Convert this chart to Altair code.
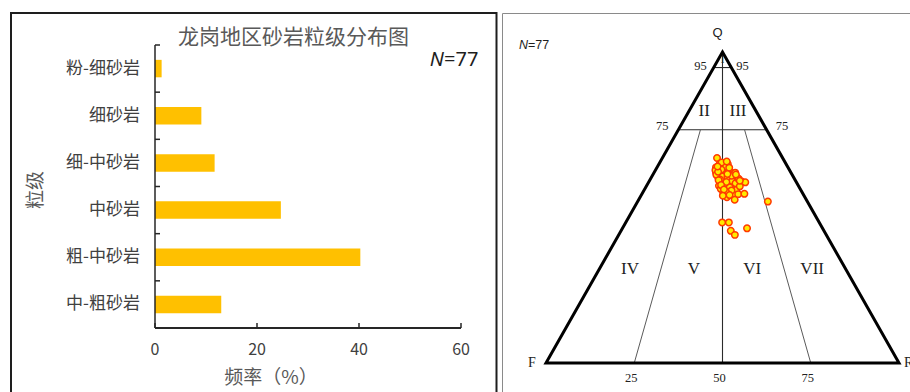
import altair as alt
import pandas as pd

# ---------------- grain-size frequency (left panel) ----------------
grain_classes = ["粉-细砂岩", "细砂岩", "细-中砂岩", "中砂岩", "粗-中砂岩", "中-粗砂岩"]
frequency_pct = [1.30, 9.09, 11.69, 24.68, 40.26, 12.99]
freq_ticks = [0, 20, 40, 60]

# ---------------- QFR composition of the 77 samples (right panel, %) ----------------
Q = [65.9, 64.0, 62.9, 62.5, 63.8, 64.0, 62.5, 61.3, 60.8, 61.4,
     61.6, 60.5, 59.7, 58.4, 58.1, 59.5, 59.3, 58.9, 58.6, 57.3,
     57.9, 57.3, 56.3, 56.0, 55.7, 54.7, 54.1, 54.3, 54.4, 52.5,
     54.7, 53.3, 56.8, 51.9, 45.2, 45.2, 42.5, 41.2, 43.3, 63.5,
     62.0, 61.0, 60.0, 59.8, 58.0, 57.5, 58.5, 60.5, 61.8, 63.0,
     64.5, 62.8, 60.2, 59.0, 57.0, 56.5, 55.5, 56.0, 57.8, 59.5,
     61.2, 58.8, 62.2, 60.8, 58.2, 55.0, 54.0, 56.8, 59.2, 61.5,
     63.2, 64.8, 57.2, 55.8, 53.8, 58.6, 60.6]
R = [15.5, 17.2, 16.7, 18.3, 18.8, 19.5, 20.0, 17.5, 18.9, 19.8,
     21.3, 22.8, 24.1, 26.2, 27.4, 19.1, 20.6, 22.3, 24.0, 25.8,
     21.8, 23.4, 22.8, 24.4, 26.1, 24.3, 26.0, 27.3, 29.0, 27.2,
     22.9, 24.6, 21.2, 36.9, 27.3, 29.2, 31.1, 32.9, 35.3, 17.8,
     17.0, 19.5, 20.0, 21.5, 21.0, 22.5, 23.5, 18.0, 20.5, 19.0,
     17.5, 20.5, 22.5, 19.8, 20.5, 23.8, 24.8, 21.5, 24.8, 24.5,
     23.0, 19.5, 18.6, 21.0, 22.0, 23.5, 25.0, 26.5, 25.0, 18.0,
     17.0, 18.8, 21.0, 22.5, 23.2, 25.6, 23.5]
F = [18.6, 18.8, 20.4, 19.2, 17.4, 16.5, 17.5, 21.2, 20.3, 18.8,
     17.1, 16.7, 16.2, 15.4, 14.5, 21.4, 20.1, 18.8, 17.4, 16.9,
     20.3, 19.3, 20.9, 19.6, 18.2, 21.0, 19.9, 18.4, 16.6, 20.3,
     22.4, 22.1, 22.0, 11.2, 27.5, 25.6, 26.4, 25.9, 21.4, 18.7,
     21.0, 19.5, 20.0, 18.7, 21.0, 20.0, 18.0, 21.5, 17.7, 18.0,
     18.0, 16.7, 17.3, 21.2, 22.5, 19.7, 19.7, 22.5, 17.4, 16.0,
     15.8, 21.7, 19.2, 18.2, 19.8, 21.5, 21.0, 16.7, 15.8, 20.5,
     19.8, 16.4, 21.8, 21.7, 23.0, 15.8, 15.9]

# classification field labels (Q, R at the label anchor)
field_names = ["II", "III", "IV", "V", "VI", "VII"]
field_q = [81.0, 81.0, 30.2, 30.2, 30.2, 30.2]
field_r = [4.3, 13.9, 8.7, 26.8, 43.3, 60.3]

CJK = "Noto Sans CJK SC"
SERIF = "Liberation Serif"
SANS = "Liberation Sans"
TXT = "#404040"
TTL = "#595959"
AX = "#262626"


def tern(q, r):
    """Ternary (Q top, F left, R right) -> plane coordinates in % units."""
    return r + q / 2.0, q


# ====================== left panel: bar chart ======================
bar_df = pd.DataFrame({"cls": grain_classes, "freq": frequency_pct})
xtick_df = pd.DataFrame({"freq": freq_ticks, "lab": [str(v) for v in freq_ticks]})
xaxis_df = pd.DataFrame({"freq": [freq_ticks[0]], "freq2": [freq_ticks[-1]]})

bx_scale = alt.Scale(domain=[0, 60], range=[155, 461], nice=False)
by_scale = alt.Scale(domain=grain_classes, range=[45, 328],
                     paddingInner=0.63, paddingOuter=0.315)
band_step = (328 - 45) / len(grain_classes)


def BX():
    return alt.X("freq:Q", scale=bx_scale, axis=None)


def BY():
    return alt.Y("cls:N", sort=grain_classes, scale=by_scale, axis=None)


bars = alt.Chart(bar_df).mark_bar(color="#FFC000").encode(x=BX(), y=BY())

# value axis: baseline, inward ticks and labels
x_line = alt.Chart(xaxis_df).mark_rule(color=AX, strokeWidth=2).encode(
    x=BX(), x2="freq2:Q", y=alt.value(328))
x_ticks = alt.Chart(xtick_df).mark_rule(color=AX, strokeWidth=1.5).encode(
    x=BX(), y=alt.value(323), y2=alt.value(328))
x_labels = alt.Chart(xtick_df).mark_text(
    font=CJK, fontSize=16, color=TXT, baseline="middle", align="center"
).encode(x=BX(), y=alt.value(350), text="lab:N")

# category axis: line, inward ticks at the class boundaries and labels
y_line = alt.Chart(xaxis_df).mark_rule(color=AX, strokeWidth=1.5).encode(
    x=BX(), y=alt.value(45), y2=alt.value(328))
y_ticks = alt.Chart(bar_df).mark_rule(
    color=AX, strokeWidth=1.5, yOffset=-band_step / 2
).encode(y=BY(), x=alt.value(155), x2=alt.value(160))
y_labels = alt.Chart(bar_df).mark_text(
    font=CJK, fontSize=17, color=TXT, baseline="middle", align="right"
).encode(y=BY(), x=alt.value(140), text="cls:N")

bar_panel = alt.layer(bars, x_line, x_ticks, x_labels, y_line, y_ticks,
                      y_labels)

# ====================== right panel: QFR ternary ======================
tx_scale = alt.Scale(domain=[0, 100], range=[546, 899], nice=False, zero=False)
ty_scale = alt.Scale(domain=[0, 100], range=[363, 52], nice=False, zero=False)


def txy(df):
    x, y = tern(df["q"], df["r"])
    return df.assign(x=x, y=y)


def X():
    return alt.X("x:Q", scale=tx_scale, axis=None)


def Y():
    return alt.Y("y:Q", scale=ty_scale, axis=None)


# outer triangle F -> R -> Q -> F -> R (last leg closes the corner joins)
outline = txy(pd.DataFrame({"q": [0, 0, 100, 0, 0], "r": [0, 100, 0, 0, 100],
                            "o": [0, 1, 2, 3, 4]}))
triangle = alt.Chart(outline).mark_line(
    color="black", strokeWidth=3, strokeJoin="miter"
).encode(x=X(), y=Y(), order="o:Q")

# field boundaries: Q = 95, Q = 75, the F:R = 1:1 axis and the 3:1 / 1:3 lines
seg = pd.DataFrame({
    "q": [95, 75, 100, 75, 75], "r": [0, 0, 0, 6.25, 18.75],
    "q2": [95, 75, 0, 0, 0], "r2": [5, 25, 50, 25, 75],
    "kind": ["main", "main", "main", "ratio", "ratio"],
})
seg["x"], seg["y"] = tern(seg["q"], seg["r"])
seg["x2"], seg["y2"] = tern(seg["q2"], seg["r2"])
main_lines = alt.Chart(seg[seg.kind == "main"]).mark_rule(
    color="#2b2b2b", strokeWidth=1.1
).encode(x=X(), y=Y(), x2="x2:Q", y2="y2:Q")
ratio_lines = alt.Chart(seg[seg.kind == "ratio"]).mark_rule(
    color="#5a5a5a", strokeWidth=1
).encode(x=X(), y=Y(), x2="x2:Q", y2="y2:Q")

samples = txy(pd.DataFrame({"q": Q, "f": F, "r": R}))
points = alt.Chart(samples).mark_circle(
    size=42, color="#FFEA00", opacity=1, stroke="#FF3A00", strokeWidth=1.5
).encode(x=X(), y=Y())


def tlabel(df, font, size, **kw):
    return alt.Chart(txy(df)).mark_text(
        font=font, fontSize=size, color="#222222", baseline="middle", **kw
    ).encode(x=X(), y=Y(), text="t:N")


lab_q = tlabel(pd.DataFrame({"t": ["Q"], "q": [100], "r": [0]}), SANS, 13,
               dx=-5, dy=-19)
lab_f = tlabel(pd.DataFrame({"t": ["F"], "q": [0], "r": [0]}), SERIF, 14,
               dx=-14)
lab_r = tlabel(pd.DataFrame({"t": ["R"], "q": [0], "r": [100]}), SERIF, 14,
               dx=5, align="left")
lab_95l = tlabel(pd.DataFrame({"t": ["95"], "q": [95], "r": [0]}), SERIF, 12.5,
                 align="right", dx=-7, dy=-2)
lab_95r = tlabel(pd.DataFrame({"t": ["95"], "q": [95], "r": [5]}), SERIF, 12.5,
                 align="left", dx=5, dy=-2)
lab_75l = tlabel(pd.DataFrame({"t": ["75"], "q": [75], "r": [0]}), SERIF, 12.5,
                 align="right", dx=-10, dy=-4)
lab_75r = tlabel(pd.DataFrame({"t": ["75"], "q": [75], "r": [25]}), SERIF, 12.5,
                 align="left", dx=9, dy=-4)
lab_base = tlabel(pd.DataFrame({"t": ["25", "50", "75"], "q": [0, 0, 0],
                                "r": [25, 50, 75]}), SERIF, 12.5,
                  dx=-3, dy=15)
lab_i = tlabel(pd.DataFrame({"t": ["I"], "q": [97.4], "r": [1.3]}), SERIF, 11)
lab_fields = tlabel(pd.DataFrame({"t": field_names, "q": field_q,
                                  "r": field_r}), SERIF, 17)

tern_panel = alt.layer(main_lines, ratio_lines, triangle, points,
                       lab_q, lab_f, lab_r, lab_95l, lab_95r, lab_75l,
                       lab_75r, lab_base, lab_i, lab_fields)

# ====================== frames and free text ======================
one = pd.DataFrame({"k": [0]})
frame_left = alt.Chart(one).mark_rect(
    fill="white", stroke="#1e1e1e", strokeWidth=2
).encode(x=alt.value(11), x2=alt.value(496.5), y=alt.value(13),
         y2=alt.value(430))
frame_right = alt.Chart(one).mark_rect(
    fill="white", stroke="#8a8a8a", strokeWidth=1
).encode(x=alt.value(502.5), x2=alt.value(960), y=alt.value(13.5),
         y2=alt.value(430))


def free_text(txt, x, y, **kw):
    return alt.Chart(one).mark_text(baseline="middle", **kw).encode(
        x=alt.value(x), y=alt.value(y), text=alt.value(txt))


title = free_text("龙岗地区砂岩粒级分布图", 293.5, 38, font=CJK, fontSize=21,
                  color=TTL, align="center")
x_title = free_text("频率（%）", 271, 378, font=CJK, fontSize=19, color=TTL,
                    align="center")
y_title = free_text("粒级", 36, 190, font=CJK, fontSize=19, color=TTL,
                    align="center", angle=270)
n_left_a = free_text("N", 444, 60, font="Noto Sans", fontSize=20,
                     fontStyle="italic", color="#1e1e1e", align="right")
n_left_b = free_text("=77", 444, 60, font="Noto Sans", fontSize=20,
                     color="#1e1e1e", align="left")
n_right_a = free_text("N", 528, 45, font=SANS, fontSize=12.5,
                      fontStyle="italic", color="#1e1e1e", align="right")
n_right_b = free_text("=77", 528, 45, font=SANS, fontSize=12.5,
                      color="#1e1e1e", align="left")

chart = alt.layer(
    frame_left, frame_right, bar_panel, tern_panel,
    title, x_title, y_title, n_left_a, n_left_b, n_right_a, n_right_b,
).resolve_scale(
    x="independent", y="independent"
).properties(
    width=910, height=392, padding=0,
    autosize=alt.AutoSizeParams(type="none"),
    background="white",
).configure_view(stroke="transparent")

chart.save("out.html", embed_options={"renderer": "svg", "actions": False})
